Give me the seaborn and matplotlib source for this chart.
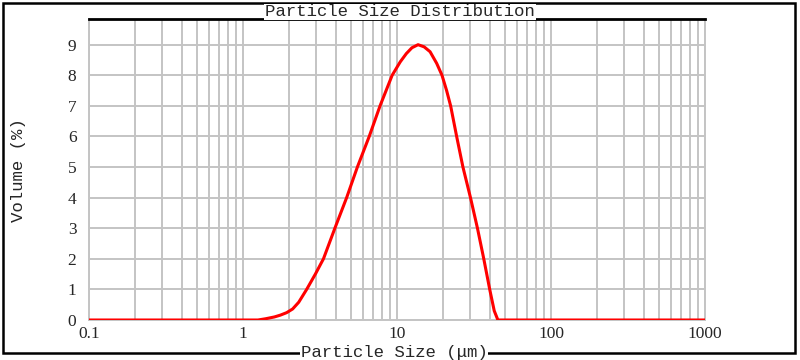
import numpy as np
import pandas as pd
import matplotlib
matplotlib.use("Agg")
import matplotlib.pyplot as plt
import seaborn as sns
from matplotlib.patches import Rectangle
from matplotlib.ticker import LogLocator, NullFormatter

# Particle size (um) vs volume (%)
size_um = [0.1, 1.25, 1.4, 1.6, 1.75, 1.92, 2.1, 2.3, 2.59, 2.95, 3.33,
           3.95, 4.71, 5.53, 6.6, 7.76, 9.3, 10.5, 11.5, 12.5, 13.7, 15.0,
           16.4, 18.1, 19.6, 21.0, 22.3, 24.4, 26.8, 30.0, 33.3, 36.6, 40.0,
           42.8, 45.2, 1000]
volume_pct = [0, 0, 0.04, 0.1, 0.16, 0.24, 0.36, 0.58, 1, 1.5, 2,
              3, 4, 5, 6, 7, 8, 8.44, 8.71, 8.9, 9.0, 8.93,
              8.77, 8.39, 8, 7.5, 7, 6, 5, 4, 3, 2, 1,
              0.3, 0, 0]

x_ticks = [0.1, 1, 10, 100, 1000]
x_tick_labels = ["0.1", "1", "10", "100", "1000"]
y_ticks = list(range(10))

sns.set_style("white")
plt.rcParams["font.family"] = ["Liberation Serif", "DejaVu Serif"]

fig = plt.figure(figsize=(8, 3.6), dpi=100)
ax = fig.add_axes([89 / 800, 1 - 320 / 360, (705 - 89) / 800, (320 - 19) / 360])

df = pd.DataFrame({"size": size_um, "volume": volume_pct})
sns.lineplot(data=df, x="size", y="volume", color="red", lw=2.2, ax=ax, zorder=5)

ax.set_xscale("log")
ax.set_xlim(0.1, 1000)
ax.set_ylim(0, 9.84)
ax.set_xticks(x_ticks)
ax.set_xticklabels(x_tick_labels)
ax.xaxis.set_minor_locator(LogLocator(base=10, subs=np.arange(2, 10)))
ax.xaxis.set_minor_formatter(NullFormatter())
ax.set_yticks(y_ticks)
ax.grid(which="both", color="#c4c4c4", lw=1.4)
ax.tick_params(which="both", length=0, labelsize=12.5)
ax.tick_params(axis="y", pad=9)
ax.tick_params(axis="x", pad=4)
ax.set_xlabel("")
ax.set_ylabel("")

for side in ["left", "right", "bottom"]:
    ax.spines[side].set_color("#c4c4c4")
    ax.spines[side].set_linewidth(1.4)
ax.spines["top"].set_color("black")
ax.spines["top"].set_linewidth(2)

# outer frame
fig.add_artist(Rectangle((3 / 800, 1 - 353 / 360), 792 / 800, 350 / 360,
                         transform=fig.transFigure, fill=False,
                         ec="black", lw=1.8, zorder=1))

mono = "Liberation Mono"
fig.text(400 / 800, 1 - 12 / 360, "Particle Size Distribution", ha="center",
         va="center", family=mono, fontsize=12.5, zorder=10,
         bbox=dict(fc="white", ec="none", pad=0.5))
fig.text(394 / 800, 1 - 352 / 360, "Particle Size (μm)", ha="center",
         va="center", family=mono, fontsize=12.5, zorder=10,
         bbox=dict(fc="white", ec="none", pad=0.5))
fig.text(19 / 800, 1 - 170 / 360, "Volume (%)", ha="center", va="center",
         rotation=90, family=mono, fontsize=12.5, zorder=10)

fig.savefig("out.png", dpi=100)
